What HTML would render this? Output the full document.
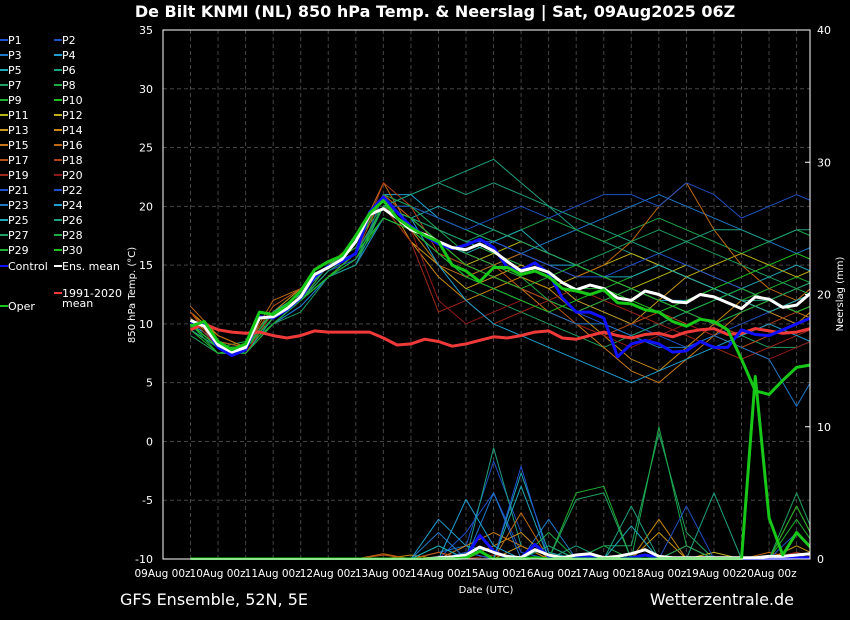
<!DOCTYPE html>
<html><head><meta charset="utf-8"><style>
html,body{margin:0;padding:0;background:#000;}
svg{display:block;font-family:"DejaVu Sans","Liberation Sans",sans-serif;}
</style></head><body>
<svg id="chart" width="850" height="620" viewBox="0 0 850 620">
<rect x="0" y="0" width="850" height="620" fill="#000"/>
<text x="435" y="17" fill="#fff" font-size="16" font-weight="bold" text-anchor="middle">De Bilt KNMI  (NL)  850 hPa Temp. &amp; Neerslag | Sat, 09Aug2025 06Z</text>
<defs><clipPath id="clip"><rect x="163" y="30" width="647" height="530"/></clipPath></defs>
<g id="grid"></g>
<g id="series" clip-path="url(#clip)"></g>
<g id="axes"></g>
<g id="legend"></g>
<text x="486" y="593" fill="#fff" font-size="10" text-anchor="middle">Date (UTC)</text>
<text transform="translate(135,295) rotate(-90)" fill="#fff" font-size="10" text-anchor="middle">850 hPa Temp. (°C)</text>
<text transform="translate(843,294) rotate(-90)" fill="#fff" font-size="10" text-anchor="middle">Neerslag (mm)</text>
<text x="120" y="605" fill="#fff" font-size="16">GFS Ensemble, 52N, 5E</text>
<text x="794" y="605" fill="#fff" font-size="16" text-anchor="end">Wetterzentrale.de</text>
</svg>
<script>
const dayLabels=["09Aug 00z","10Aug 00z","11Aug 00z","12Aug 00z","13Aug 00z","14Aug 00z","15Aug 00z","16Aug 00z","17Aug 00z","18Aug 00z","19Aug 00z","20Aug 00z"];
const tempTicks=[35,30,25,20,15,10,5,0,-5,-10];
const precipTicks=[40,30,20,10,0];
const ensMean=[10.3,9.8,8.2,7.6,8.0,10.5,10.6,11.3,12.3,14.2,14.8,15.5,17,19.3,19.8,19,18,17.6,17,16.5,16.3,16.8,16.2,15.3,14.5,14.8,14.4,13.5,12.9,13.3,13,12.2,12,12.8,12.5,11.9,11.8,12.5,12.3,11.8,11.3,12.3,12.1,11.4,11.6,12.6];
const control=[10.2,9.9,8.0,7.3,7.8,10.6,10.5,11.2,12.2,14.0,14.9,15.3,16,19.5,20.8,19.5,18.3,17.5,16.8,16.4,16.7,17.2,16.5,14.8,14.6,15.2,14.3,12.2,11,11,10.5,7.2,8.3,8.6,8.3,7.6,7.7,8.5,8.0,8.0,9.5,9.1,9.0,9.5,10,10.5];
const oper=[9.8,10.2,8.5,7.8,8.3,11,10.8,11.6,12.8,14.6,15.3,15.8,17.5,19.4,20.5,19,18.2,17.5,17,15,14.5,13.6,14.8,14.8,14.2,14.5,14,13,12.8,12.5,12.9,11.8,11.7,11.2,11,10.2,9.8,10.4,10.2,9.5,7,4.3,4.0,5.2,6.3,6.5];
const climate=[9.5,10,9.5,9.3,9.2,9.3,9,8.8,9,9.4,9.3,9.3,9.3,9.3,8.8,8.2,8.3,8.7,8.5,8.1,8.3,8.6,8.9,8.8,9.0,9.3,9.4,8.8,8.7,9.0,9.3,9.0,8.8,9.1,9.2,8.9,9.3,9.5,9.6,9.1,9.2,9.6,9.4,9.2,9.3,9.6];
const meanPrecip=[0,0,0,0,0,0,0,0,0,0,0,0,0,0,0,0,0,0,0.1,0.15,0.3,0.9,0.5,0.2,0.1,0.7,0.3,0.1,0.3,0.4,0.1,0.2,0.4,0.7,0.2,0.1,0.1,0.1,0.1,0.1,0.1,0.1,0.2,0.2,0.3,0.4];
const controlPrecip=[0,0,0,0,0,0,0,0,0,0,0,0,0,0,0,0,0,0,0,0.1,0.2,1.8,0.6,0.1,0.1,1.1,0.2,0,0.1,0.2,0,0,0.1,0.3,0.1,0,0,0,0,0,0,0,0,0,0.1,0.1];
const operPrecip=[0,0,0,0,0,0,0,0,0,0,0,0,0,0,0,0,0,0,0,0,0.1,0.6,0,0,0,0.1,0,0,0,0,0,0,0,0,0,0,0,0,0,0,0,13.8,3.1,0.3,2.0,0.9];
const members=[
[10,8,8,11,12,15,16,20,19,17,15,14,13,12,11,10,9,10,11,12,13,12,11,12],
[10,7.5,8,10,12,14,15,21,20,18,17,16,15,14,12,11,10,9,8,9,10,11,10,11],
[9.5,8,7.5,10,11.5,14,16,19,18,16,14,15,16,17,18,19,20,21,20,19,18,17,16,17],
[10,8.5,8,11,13,15,17,21,21,19,18,17,16,15,15,14,13,12,12,13,12,11,12,13],
[10.5,8,7.5,10.5,12,14,16,20,19,20,19,18,17,16,15,14,13,12,11,12,13,14,15,14],
[10,8,8,10,12,15,16,20,21,22,23,24,22,20,18,17,16,15,14,13,12,12,11,12],
[9,7.5,7.5,10,11,14,15,19,18,15,13,12,11,10,9,8,9,10,11,10,9,8,8,9],
[10,8,8.5,11,12.5,15,17,20,20,19,18,17,18,19,18,17,18,19,18,17,16,17,18,17],
[10,8,8,10.5,12,14.5,16,20,19,18,17,16,15,14,13,13,14,15,14,13,12,13,14,13],
[9.5,7.5,8,10,12,14,15.5,19,18,17,15,14,13,12,11,12,13,12,11,10,11,12,11,12],
[10,8,8,11,12,15,16,20,18,16,15,16,17,16,15,14,13,14,15,14,13,12,13,14],
[10.5,8.5,8,11,12.5,15,16.5,21,19,17,16,15,14,13,14,15,16,15,14,15,16,15,14,15],
[11,9,8,11,12,14,16,20,17,15,13,14,15,14,12,11,10,12,14,13,12,11,12,13],
[11,9,8,11,13,15,17,21,17,14,12,13,14,13,11,9,7,6,8,10,12,11,10,12],
[11,8,7.5,11,12,15,16,20,19,17,15,14,13,11,10,8,6,5,7,9,11,12,11,10],
[11.5,9,8,12,13,15,17,22,18,15,14,15,16,15,14,15,17,20,22,18,15,13,12,14],
[11,8.5,8,11.5,13,15,16,21,19,17,16,15,13,12,10,9,10,11,10,9,8,9,10,11],
[11,8,8,11,12,14,16,22,20,16,15,14,13,12,11,12,13,12,11,10,9,10,11,12],
[10.5,8,7.5,11,12,14.5,16,20,17,11,12,10,11,12,13,12,11,10,9,8,7,8,9,10],
[10,8,8,10.5,12,14.5,16,20,18,12,10,11,12,11,10,9,8,9,10,9,8,7,8,9],
[10,8,8,10.5,12,14.5,15.5,20,19,18,17,17,16,15,14,14,15,16,15,14,13,12,13,14],
[10,8,8,10.5,12,14,15.5,20,20,19,18,19,20,19,20,21,21,20,22,21,19,20,21,20],
[10,8,7.5,10,11.5,14,15,19,18,16,14,13,12,11,10,10,9,8,8,9,8,7,3,7],
[10,8,8,11,12,14.5,16,20,19,15,12,10,9,8,7,6,5,6,7,8,9,10,9,8],
[10,8,8,11,12.5,15,16,20,19,17,16,17,18,16,15,14,14,15,14,13,12,11,12,13],
[9.5,8,7.5,10,12,14,15,20,21,22,21,22,21,20,19,18,17,16,17,18,18,17,18,18],
[10,8,8,10.5,12,14.5,16,20,19,18,17,18,17,16,15,16,17,18,17,16,15,14,13,14],
[10,8,8,11,12,15,16.5,21,20,18,16,15,14,12,11,12,13,12,11,10,11,12,13,12],
[10,7.5,7.5,10,12,14,15.5,20,19,17,15,14,13,14,15,14,13,12,11,12,13,12,11,12],
[10,8,8,10.5,12,14,16,19,18,16,14,13,12,11,12,13,12,11,12,13,14,15,16,15]
];
const memberPrecip=[
[0,0,0,0,0,0,0,0,0,0,2,5,0.5,0,0,0,0,0,0,0,0,0,0,0],
[0,0,0,0,0,0,0,0,0,0,1,7.4,2,0,0,0,0,0,0,0,0,0,0,0],
[0,0,0,0,0,0,0,0,0,0.5,1,0,0,3,0,0,0,0,0,0,0,0,0,0],
[0,0,0,0,0,0,0,0,0,3,1,0.5,0,0,0,0,0,0,0,0,0,0,0,0],
[0,0,0,0,0,0,0,0,0,0,0.5,0,6.5,0.5,0,0,0,0,0,0,0,0,0,0],
[0,0,0,0,0,0,0,0,0,1,0,8.4,1,0,1,0,0,0,0,0,0,0,0,0],
[0,0,0,0,0,0,0,0,0,0,0,0,0,0,0,1,1,9.5,2,0,0,0,0,0],
[0,0,0,0,0,0,0,0,0,0,0,0,0,0,0,1,0,10,1,0,0,0,0,0],
[0,0,0,0,0,0,0,0,0,0,0,0,0,0,5,5.5,0,0,0,0,0,0,3,0],
[0,0,0,0,0,0,0,0,0,0,0,0,0,1,0,0,0,0,0,0,0,0,0,0],
[0,0,0,0,0,0,0,0,0,0,0,0,0,0,0,0,0,0,0,0,0,0,0,0],
[0,0,0,0,0,0,0,0,0,0,0,0,0,0,0,0,0,0,0,0.5,0,0,0,0],
[0,0,0,0,0,0,0,0,0,0,0,0,1,0,0,0,0,2,0,0,0,0,1,0],
[0,0,0,0,0,0,0,0,0.3,0,0,1,2,0,0,0,0,3,0,0,0,0,4,0],
[0,0,0,0,0,0,0,0,0,0,1,2,1,0,0,0,0,0,1,0,0,0,0,1],
[0,0,0,0,0,0,0,0.4,0,0.5,0,0,3.5,0,0,0,0,0,0,0,0,0.5,0,0],
[0,0,0,0,0,0,0,0.3,0,0.5,0,0,0,0,0,0,0,0,0,0,0,0,0,0],
[0,0,0,0,0,0,0,0,0,0,0,0,0,0,0,0,0,0,0,0,0,0,0.5,0],
[0,0,0,0,0,0,0,0,0,0,0,0.3,0,0,0,0,0,0,0,0,0,0,0.5,0],
[0,0,0,0,0,0,0,0,0,0,0,0,0,0,0,0,0,0,0,0,0,0,0,0],
[0,0,0,0,0,0,0,0,0,0,0.5,0,7,0,0,0,0,0,0,0,0,0,0,0],
[0,0,0,0,0,0,0,0,0,0,0,0,0,0,0,0,0,0,4,0,0,0,2,0],
[0,0,0,0,0,0,0,0,0,2,0,5,0,0,0,0,0,0,0,0,0,0,0,0],
[0,0,0,0,0,0,0,0,0,0,4.5,1,0,0,0,0,0,0,0,0,0,0,0,0],
[0,0,0,0,0,0,0,0,0,1,0,0,5.5,0,0,0,2.5,0,0,0,0,0,0,0],
[0,0,0,0,0,0,0,0,0,0,0,0,0,1,0,0,4,0,0,5,0,0,0,0],
[0,0,0,0,0,0,0,0,0,0,0,0,0,0,4.5,5,0,0,1,0,0,0,5,0],
[0,0,0,0,0,0,0,0,0,0,0,0,0,2,0,0,0,0,0,0,0,0,0,0],
[0,0,0,0,0,0,0,0,0,0,0,0,0,0,0,0,0,0,0,0,0,0,4,0],
[0,0,0,0,0,0,0,0,0,0,0,0,0,0,0,0,0,0,0,0,0,0,0,0]
];
const memberColors=['#1f50d0','#1f50c0','#1f78c8','#1fa0d0','#1fa8b8','#1fa080','#1fa060','#1fa848','#1fb030','#1fc020','#b8b818','#c0b018','#c89818','#c88810','#c87818','#c06a10','#b85018','#b04018','#a02818','#901818'];
const memberNames=Array.from({length:30},(_,i)=>'P'+(i+1));

const NS='http://www.w3.org/2000/svg';
const X0=163,X1=810,Y0=30,Y1=559,DAYPX=55.1,START=190.5;
function xDay(d){return X0-0.5+d*DAYPX;}
function xIdx(i6){return START+i6*DAYPX/4;}
function yT(t){return Y1-(t+10)*(Y1-Y0)/45;}
function yP(p){return Y1-p*(Y1-Y0)/40;}
function mk(tag,attrs,parent){const e=document.createElementNS(NS,tag);for(const k in attrs)e.setAttribute(k,attrs[k]);parent.appendChild(e);return e;}
const grid=document.getElementById('grid'),ser=document.getElementById('series'),axes=document.getElementById('axes'),leg=document.getElementById('legend');

for(let k=0;k<24;k++){const x=START+k*DAYPX/2;if(x>X1)break;
 const g=mk('line',{x1:x,x2:x,y1:Y0,y2:Y1,stroke:'#444','stroke-dasharray':'4,3','stroke-width':1},grid);
 
 }
tempTicks.forEach(t=>{const y=yT(t);
 if(t>-10&&t<35){const g=mk('line',{x1:X0,x2:X1,y1:y,y2:y,stroke:'#444','stroke-dasharray':'4,3'},grid);
 
 }
 const tx=mk('text',{x:153,y:y+4,fill:'#fff','font-size':11,'text-anchor':'end'},axes);tx.textContent=t;
 
 });
precipTicks.forEach(p=>{const y=yP(p);
 mk('line',{x1:X1-5,x2:X1,y1:y,y2:y,stroke:'#fff'},axes);
 const tx=mk('text',{x:817,y:y+4,fill:'#fff','font-size':11},axes);tx.textContent=p;
 
 });
dayLabels.forEach((l,d)=>{const tx=mk('text',{x:xDay(d),y:577,fill:'#fff','font-size':10.5,'text-anchor':'middle'},axes);tx.textContent=l;
 
 });
const frame=mk('path',{d:`M${X0},${Y0}H${X1}V${Y1}H${X0}Z`,fill:'none',stroke:'#fff','stroke-width':1},axes);



function line(vals,step,yf,color,w,name){
 const d=vals.map((v,i)=>(i?'L':'M')+xIdx(i*step).toFixed(1)+','+yf(v).toFixed(1)).join('');
 const p=mk('path',{d:d,fill:'none',stroke:color,'stroke-width':w,'stroke-linejoin':'round'},ser);
 
 }
members.forEach((m,i)=>line(m,2,yT,memberColors[i%20],1,'member-temp-line'));
memberPrecip.forEach((m,i)=>line(m,2,yP,memberColors[i%20],1,'member-precip-line'));
line(climate,1,yT,'#f03a3a',3,'climate-mean-line');
line(control,1,yT,'#1010ff',3,'control-temp-line');
line(ensMean,1,yT,'#ffffff',3,'ens-mean-temp-line');
line(oper,1,yT,'#18c818',3,'oper-temp-line');
line(controlPrecip,1,yP,'#1010ff',3,'control-precip-line');
line(meanPrecip,1,yP,'#ffffff',3,'ens-mean-precip-line');
line(operPrecip,1,yP,'#18c818',3,'oper-precip-line');

function legItem(x,y,color,label,name){
 const l=mk('line',{x1:x,x2:x+8,y1:y,y2:y,stroke:color,'stroke-width':2},leg);
 
 
 const t=mk('text',{x:x+8,y:y+4,fill:'#fff','font-size':11},leg);t.textContent=label;
 
 
 return t;}
memberNames.forEach((n,i)=>{const col=i%2,row=Math.floor(i/2);
 legItem(col?54:0,40+row*15,memberColors[i%20],n,'legend-entry');});
legItem(0,266,'#1010ff','Control','legend-entry');
legItem(54,266,'#ffffff','Ens. mean','legend-entry');
const cl=legItem(54,293,'#f03a3a','1991-2020','legend-entry');
const t2=mk('text',{x:62,y:307,fill:'#fff','font-size':11},leg);t2.textContent='mean';


legItem(0,306,'#18c818','Oper','legend-entry');
</script>
</body></html>
